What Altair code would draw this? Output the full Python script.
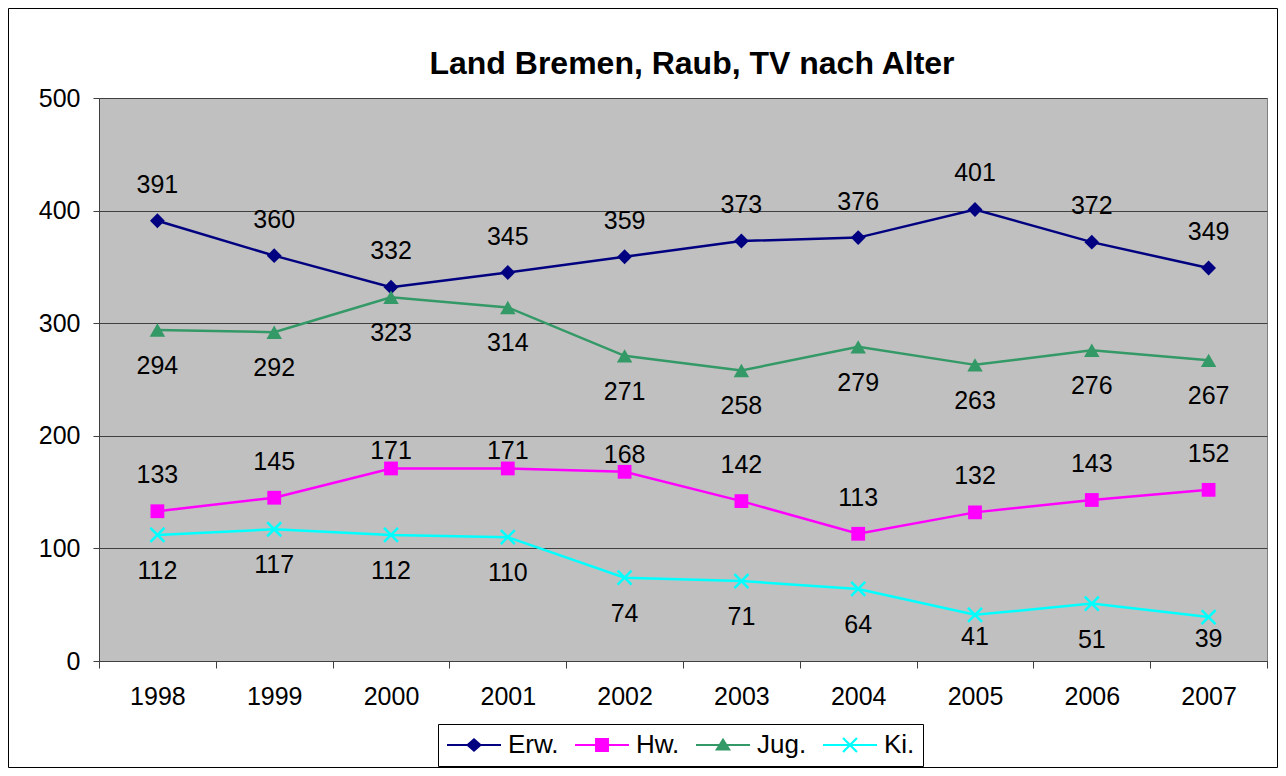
import altair as alt
import pandas as pd

years = ["1998", "1999", "2000", "2001", "2002", "2003", "2004", "2005", "2006", "2007"]
erw = [391, 360, 332, 345, 359, 373, 376, 401, 372, 349]
hw = [133, 145, 171, 171, 168, 142, 113, 132, 143, 152]
jug = [294, 292, 323, 314, 271, 258, 279, 263, 276, 267]
ki = [112, 117, 112, 110, 74, 71, 64, 41, 51, 39]

series_names = ["Erw.", "Hw.", "Jug.", "Ki."]
series_colors = ["#000080", "#FF00FF", "#339966", "#00FFFF"]

rows = []
for name, vals in zip(series_names, [erw, hw, jug, ki]):
    for yr, v in zip(years, vals):
        rows.append({"Jahr": yr, "Serie": name, "Wert": v})
df = pd.DataFrame(rows)

FONT = "Liberation Sans"

# legend symbols: line segment + marker (custom paths, 1 unit = 12 px)
LINE = "M-1,-0.085H3.5V0.085H-1Z"
legend_paths = [
    LINE + "M1.25,-0.58L1.917,0L1.25,0.58L0.583,0Z",
    LINE + "M0.67,-0.58H1.83V0.58H0.67Z",
    LINE + "M1.25,-0.6L1.917,0.46L0.583,0.46Z",
    LINE + "M0.735,-0.645L1.895,0.515L1.765,0.645L0.605,-0.515Z"
         + "M0.605,0.515L1.765,-0.645L1.895,-0.515L0.735,0.645Z",
]

x_enc = alt.X(
    "Jahr:O",
    sort=years,
    scale=alt.Scale(paddingInner=0, paddingOuter=0),
    axis=alt.Axis(
        title=None, labelAngle=0, tickBand="extent", grid=False,
        tickSize=7, tickColor="#404040", domainColor="#404040",
        labelFontSize=25, labelFont=FONT, labelColor="black", labelPadding=16,
    ),
)
y_enc = alt.Y(
    "Wert:Q",
    scale=alt.Scale(domain=[0, 500], nice=False),
    axis=alt.Axis(
        title=None, values=[0, 100, 200, 300, 400, 500], grid=True,
        gridColor="#404040", gridWidth=1, tickSize=6, tickColor="#404040",
        domainColor="#404040", labelFontSize=25, labelFont=FONT,
        labelColor="black", labelPadding=13,
    ),
)
color_scale = alt.Scale(domain=series_names, range=series_colors)
color_nl = alt.Color("Serie:N", scale=color_scale, legend=None)

base = alt.Chart(df)

legend_def = alt.Legend(
    orient="none", legendX=339, legendY=626, direction="horizontal", columns=4,
    symbolSize=576, symbolStrokeWidth=0, symbolOpacity=1,
    labelFontSize=26, labelFont=FONT, labelColor="black", labelOffset=36,
    columnPadding=15, padding=8, strokeColor="black", fillColor="white",
)
# legend-carrying layer (first, so its legend settings win): invisible marks
legend_layer = base.mark_point(filled=True, opacity=1, size=0).encode(
    x=x_enc,
    y=y_enc,
    color=alt.Color("Serie:N", scale=color_scale, title=None, legend=legend_def),
    shape=alt.Shape("Serie:N", scale=alt.Scale(domain=series_names, range=legend_paths),
                    title=None, legend=legend_def),
)

frame = alt.Chart(alt.Data(values=[{}])).mark_rect(
    fillOpacity=0, stroke="black", strokeWidth=1
).encode(
    x=alt.value(-90.5), x2=alt.value(1178.5), y=alt.value(-89.5), y2=alt.value(669.5)
)

lines = base.mark_line(strokeWidth=2.5).encode(x=x_enc, y=y_enc, color=color_nl)


def pts(name, **kw):
    return base.transform_filter(alt.datum.Serie == name).mark_point(opacity=1, **kw).encode(
        x=x_enc, y=y_enc, color=color_nl
    )


p_erw = pts("Erw.", filled=True, shape="diamond", size=220)
p_hw = pts("Hw.", filled=True, shape="square", size=190)
p_jug = pts("Jug.", filled=True, shape="triangle-up", size=240)
p_ki = pts("Ki.", filled=False, shape="M-1,-1L1,1M-1,1L1,-1", size=196, strokeWidth=2.5)


def labels(expr, dy):
    return base.transform_filter(expr).mark_text(
        fontSize=25, font=FONT, color="black", baseline="middle", align="center", dy=dy
    ).encode(x=x_enc, y=y_enc, text=alt.Text("Wert:Q"))


t_above = labels("datum.Serie == 'Erw.' || (datum.Serie == 'Hw.' && datum.Wert < 165)", -36)
t_close = labels("datum.Serie == 'Hw.' && datum.Wert >= 165", -17)
t_below = labels("(datum.Serie == 'Jug.' || datum.Serie == 'Ki.') && datum.Wert >= 50", 36)
t_low = labels("(datum.Serie == 'Jug.' || datum.Serie == 'Ki.') && datum.Wert < 50", 22)

chart = alt.layer(
    legend_layer, frame, lines, p_erw, p_hw, p_jug, p_ki, t_above, t_close, t_below, t_low
).properties(
    width=1168,
    height=563,
    padding={"left": 91, "top": 90, "right": 11, "bottom": 107},
    autosize=alt.AutoSizeParams(type="none"),
    title=alt.TitleParams(
        "Land Bremen, Raub, TV nach Alter", fontSize=32, font=FONT, fontWeight="bold",
        color="black", anchor="middle", offset=-98, dx=9, frame="group",
        baseline="alphabetic",
    ),
).configure(background="white").configure_view(
    fill="#C0C0C0", stroke="#808080", strokeWidth=1
)

chart.save("out.html", embed_options={"renderer": "svg", "actions": False})
